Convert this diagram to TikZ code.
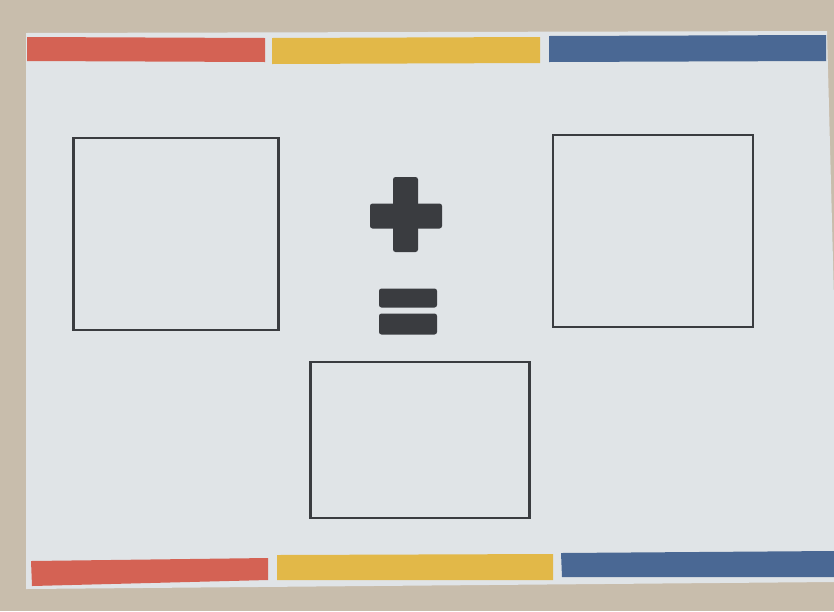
\documentclass[tikz,border=0pt]{standalone}
\usepackage{tikz}
\usepackage{xcolor}
\usetikzlibrary{positioning, calc}
\definecolor{cTable}{RGB}{200,189,172}
\definecolor{cCard}{RGB}{224,228,231}
\definecolor{cRed}{RGB}{212,98,84}
\definecolor{cYellow}{RGB}{226,184,72}
\definecolor{cBlue}{RGB}{74,104,148}
\definecolor{cInk}{RGB}{58,60,64}
\tikzset{
	stripe/.style ={draw=none, inner sep=0pt},
	answerbox/.style={rectangle, draw=cInk, line width=2.6pt, inner sep=0pt},
	markbar/.style={rectangle, fill=cInk, draw=none, rounded corners=2.5pt, inner sep=0pt},
}
\begin{document}
\begin{tikzpicture}[x=1pt, y=-1pt]
	\useasboundingbox (0,0) rectangle (834,611);
	\fill[cTable] (0,0) rectangle (834,611);
	% the card
	\fill[cCard] (26,33) -- (827,31) -- (834,300) -- (834,582) -- (26,589) -- cycle;
	% coloured stripes, top and bottom
	\fill[cRed]    (27,37) -- (265,38) -- (265,62) -- (27,61) -- cycle;
	\fill[cYellow] (272,38) -- (540,37) -- (540,63) -- (272,64) -- cycle;
	\fill[cBlue]   (549,36) -- (826,35) -- (826,61) -- (549,62) -- cycle;
	\fill[cRed]    (31,561) -- (268,558) -- (268,580) -- (32,586) -- cycle;
	\fill[cYellow] (277,555) -- (553,554) -- (553,580) -- (277,580) -- cycle;
	\fill[cBlue]   (561,553) -- (834,551) -- (834,577) -- (562,577) -- cycle;
	% the three boxes
	\node[answerbox, minimum width=205pt, minimum height=192pt] (first) at (176,234) {};
	\node[answerbox, minimum width=200pt, minimum height=192pt] (second) at (653,231) {};
	\node[answerbox, minimum width=219pt, minimum height=156pt] (result) at (420,440) {};
	% plus and equals signs
	\node[markbar, minimum width=25pt, minimum height=75pt] (plusv) at (405.5,214.5) {};
	\node[markbar, minimum width=72pt, minimum height=25pt] (plush) at (406,216) {};
	\node[markbar, minimum width=58pt, minimum height=19pt] (eqtop) at (408,298) {};
	\node[markbar, minimum width=58pt, minimum height=21pt] (eqbot) at (408,324) {};
\end{tikzpicture}
\end{document}
